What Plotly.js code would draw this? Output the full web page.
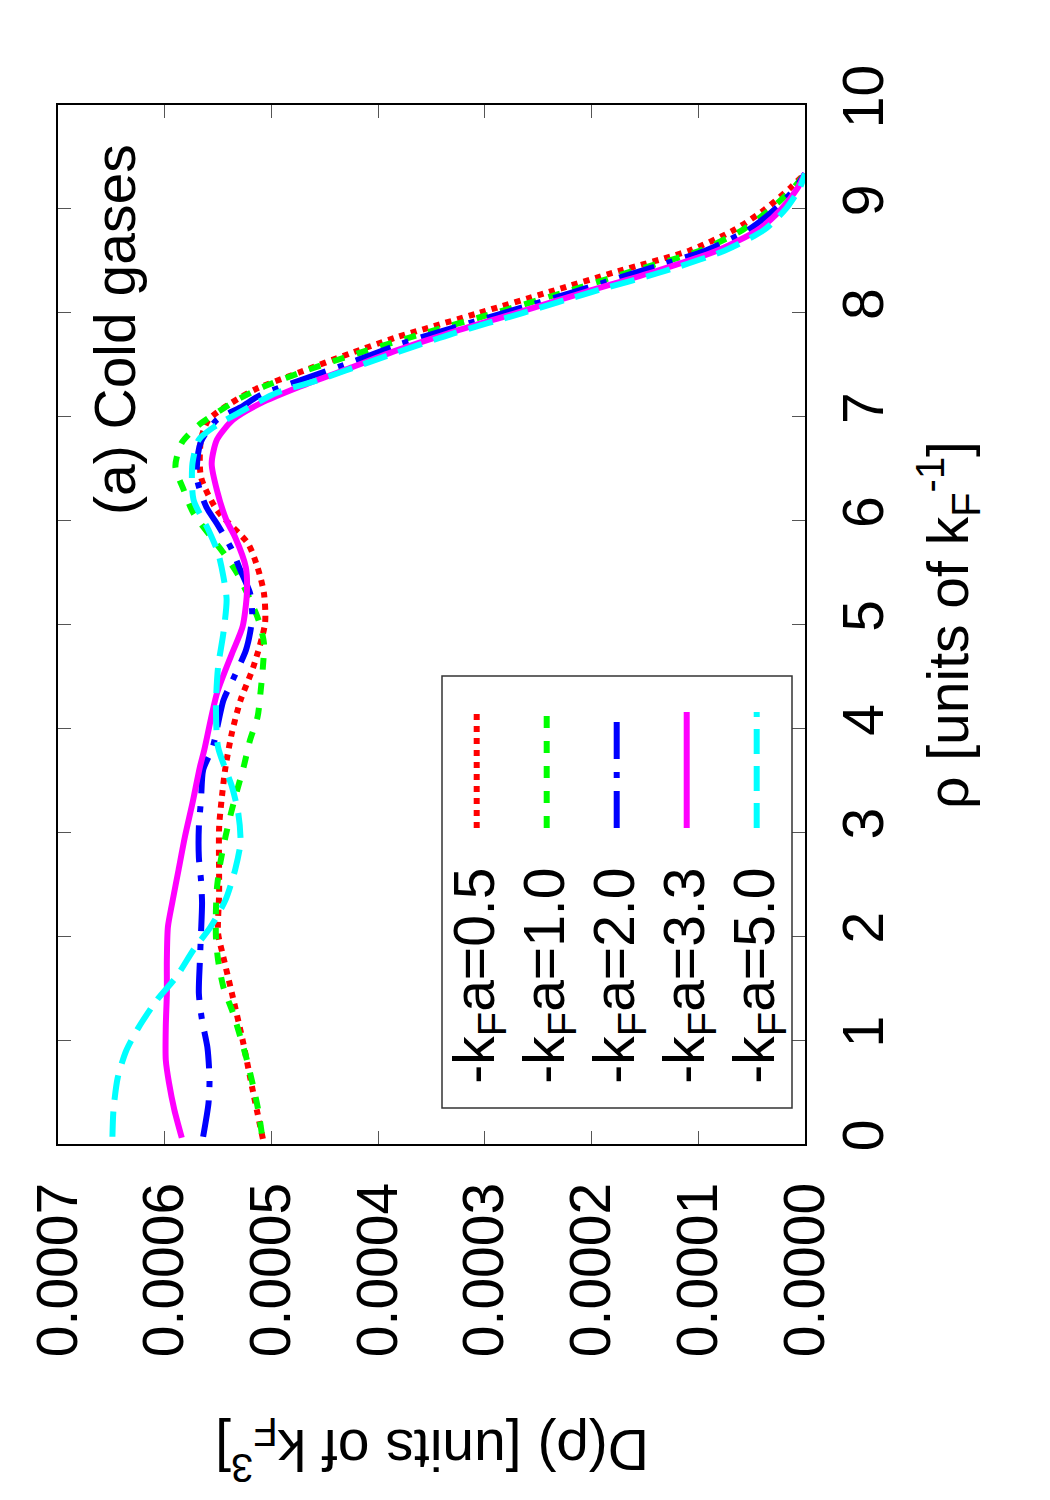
<!DOCTYPE html>
<html>
<head>
<meta charset="utf-8">
<script src="https://cdn.plot.ly/plotly-3.0.1.min.js"></script>
<style>html,body{margin:0;padding:0;background:#fff;}#plot{width:1050px;height:1500px;}</style>
</head>
<body>
<div id="plot"></div>
<script>
// D values are in units of 1e-4 k_F^3, rho in units of 1/k_F
var labels = ['-k<sub>F</sub>a=0.5', '-k<sub>F</sub>a=1.0', '-k<sub>F</sub>a=2.0', '-k<sub>F</sub>a=3.3', '-k<sub>F</sub>a=5.0'];

var rho05 = [0.05,0.49,1.0,1.45,1.84,2.03,2.42,3.05,3.38,3.63,3.96,4.27,4.59,5.01,5.30,5.55,5.78,6.10,6.42,6.78,6.97,7.13,7.26,7.43,7.61,7.76,8.0,8.2,8.4,8.6,8.8,9.0,9.2,9.34];
var D05   = [5.08,5.17,5.27,5.37,5.46,5.50,5.49,5.49,5.46,5.43,5.37,5.29,5.17,5.06,5.07,5.13,5.22,5.51,5.66,5.66,5.59,5.38,5.16,4.73,4.26,3.84,3.05,2.40,1.75,1.08,0.66,0.37,0.14,0];

var rho10 = [0.1,0.36,0.81,1.26,1.51,1.77,1.99,2.25,2.47,2.70,2.96,3.18,3.41,3.63,3.89,4.11,4.37,4.59,4.82,5.04,5.24,5.49,5.69,6.07,6.29,6.52,6.75,6.92,7.06,7.18,7.29,7.45,7.61,7.8,8.0,8.2,8.4,8.6,8.8,9.0,9.2,9.34];
var D10   = [5.09,5.13,5.23,5.36,5.45,5.50,5.52,5.52,5.51,5.48,5.43,5.38,5.32,5.26,5.20,5.13,5.10,5.08,5.07,5.12,5.20,5.32,5.45,5.73,5.82,5.90,5.84,5.68,5.48,5.29,5.07,4.66,4.19,3.58,2.90,2.25,1.62,0.98,0.58,0.32,0.11,0];

var rho20 = [0.07,0.39,0.62,0.93,1.19,1.45,1.77,2.03,2.32,2.54,2.76,3.05,3.31,3.60,3.82,4.27,4.45,4.75,4.92,5.09,5.30,5.52,5.72,5.97,6.13,6.42,6.76,6.97,7.09,7.21,7.35,7.52,7.69,7.8,8.0,8.2,8.4,8.6,8.8,9.0,9.2,9.34];
var D20   = [5.64,5.59,5.58,5.60,5.65,5.68,5.67,5.66,5.65,5.66,5.68,5.68,5.66,5.64,5.55,5.45,5.37,5.24,5.20,5.18,5.20,5.29,5.37,5.51,5.61,5.70,5.66,5.51,5.29,5.10,4.73,4.26,3.82,3.48,2.82,2.17,1.55,0.93,0.53,0.28,0.09,0];

var rho33 = [0.06,0.33,0.59,0.81,1.13,1.45,1.77,2.09,2.32,2.64,2.96,3.28,3.63,3.79,4.34,4.72,4.98,5.30,5.55,5.84,6.0,6.29,6.55,6.78,6.97,7.13,7.29,7.47,7.64,7.8,8.0,8.2,8.4,8.6,8.8,9.0,9.2,9.34];
var D33   = [5.84,5.91,5.96,5.99,5.99,5.98,5.98,5.97,5.93,5.87,5.81,5.74,5.67,5.63,5.51,5.37,5.27,5.23,5.24,5.34,5.42,5.51,5.56,5.51,5.36,5.10,4.73,4.26,3.82,3.35,2.70,2.06,1.40,0.82,0.44,0.22,0.07,0];

var rho50 = [0.07,0.33,0.64,0.90,1.13,1.39,1.61,1.87,2.09,2.35,2.64,2.90,3.18,3.44,3.82,4.21,4.59,4.92,5.24,5.46,5.69,5.91,6.20,6.55,6.78,6.90,7.03,7.23,7.35,7.53,7.62,7.8,8.0,8.2,8.4,8.6,8.8,9.0,9.2,9.34];
var D50   = [6.49,6.48,6.44,6.36,6.24,6.07,5.89,5.73,5.57,5.43,5.34,5.29,5.31,5.37,5.50,5.52,5.50,5.45,5.42,5.45,5.50,5.59,5.73,5.74,5.68,5.54,5.32,4.95,4.57,4.07,3.82,3.30,2.64,2.00,1.32,0.75,0.38,0.18,0.05,0];

var xTickVals = [0, 0.0001, 0.0002, 0.0003, 0.0004, 0.0005, 0.0006, 0.0007];
var xTickText = ['0.0000','0.0001','0.0002','0.0003','0.0004','0.0005','0.0006','0.0007'];
var yTickVals = [0,1,2,3,4,5,6,7,8,9,10];

var series = [
  {rho: rho05, D: D05, color: '#ff0000', dash: '6px,6px'},
  {rho: rho10, D: D10, color: '#00ff00', dash: '12px,13px'},
  {rho: rho20, D: D20, color: '#0000ff', dash: '37px,13px,6px,13px'},
  {rho: rho33, D: D33, color: '#ff00ff', dash: 'solid'},
  {rho: rho50, D: D50, color: '#00ffff', dash: '25px,12px'}
];

var W = 1050, H = 1500;
var L = 58, R = 805, T = 105, B = 1144;
function px(x){ return (x - L) / (R - L); }
function py(y){ return (B - y) / (B - T); }

var FONT = 'Liberation Sans, Arial, Helvetica, sans-serif';
var LW = 6;

var traces = series.map(function(s, i){
  return {
    type: 'scatter', mode: 'lines',
    x: s.D.map(function(v){ return v * 1e-4; }),
    y: s.rho,
    line: {color: s.color, width: LW, dash: s.dash, shape: 'spline', smoothing: 0.7},
    name: labels[i], showlegend: false, hoverinfo: 'skip'
  };
});

var shapes = [{
  type: 'rect', xref: 'paper', yref: 'paper',
  x0: px(442), x1: px(792), y0: py(1108), y1: py(676),
  line: {color: '#333', width: 1.5}, fillcolor: 'rgba(0,0,0,0)'
}];
var annotations = [];
series.forEach(function(s, i){
  var cx = 476.7 + 70 * i;
  shapes.push({
    type: 'line', xref: 'paper', yref: 'paper',
    x0: px(cx), x1: px(cx), y0: py(828), y1: py(712),
    line: {color: s.color, width: LW, dash: s.dash}
  });
  annotations.push({
    xref: 'paper', yref: 'paper', x: px(cx + 1), y: py(866),
    xanchor: 'center', yanchor: 'top', textangle: -90,
    text: labels[i], showarrow: false,
    font: {family: FONT, size: 57, color: '#000'}
  });
});

annotations.push({
  xref: 'paper', yref: 'paper', x: px(115), y: py(330),
  xanchor: 'center', yanchor: 'middle', textangle: -90,
  text: '(a) Cold gases', showarrow: false,
  font: {family: FONT, size: 57, color: '#000'}
});
annotations.push({
  xref: 'paper', yref: 'paper', x: px(948), y: py(625),
  xanchor: 'center', yanchor: 'middle', textangle: -90,
  text: 'ρ [units of k<sub>F</sub><sup>-1</sup>]', showarrow: false,
  font: {family: FONT, size: 57, color: '#000'}
});
annotations.push({
  xref: 'paper', yref: 'paper', x: px(432), y: py(1450),
  xanchor: 'center', yanchor: 'middle', textangle: 180,
  text: 'D(ρ) [units of k<sub>F</sub><sup>3</sup>]', showarrow: false,
  font: {family: FONT, size: 57, color: '#000'}
});

var layout = {
  width: W, height: H,
  margin: {l: L, r: W - R, t: T, b: H - B, pad: 0},
  paper_bgcolor: '#fff', plot_bgcolor: '#fff',
  font: {family: FONT, size: 57, color: '#000'},
  showlegend: false,
  xaxis: {
    range: [0.0007, 0], tickvals: xTickVals, ticktext: xTickText,
    tickangle: -90, side: 'bottom',
    ticks: 'inside', ticklen: 13, tickwidth: 1, tickcolor: '#555',
    showline: true, linewidth: 2, linecolor: '#000', mirror: 'ticks',
    showgrid: false, zeroline: false,
    tickfont: {family: FONT, size: 57, color: '#000'},
    ticklabelstandoff: 14
  },
  yaxis: {
    range: [0, 10], tickvals: yTickVals,
    tickangle: -90, side: 'right',
    ticks: 'inside', ticklen: 13, tickwidth: 1, tickcolor: '#555',
    showline: true, linewidth: 2, linecolor: '#000', mirror: 'ticks',
    showgrid: false, zeroline: false,
    tickfont: {family: FONT, size: 57, color: '#000'},
    ticklabelstandoff: 8
  },
  shapes: shapes,
  annotations: annotations
};

Plotly.newPlot('plot', traces, layout, {staticPlot: true, displayModeBar: false});
</script>
</body>
</html>
